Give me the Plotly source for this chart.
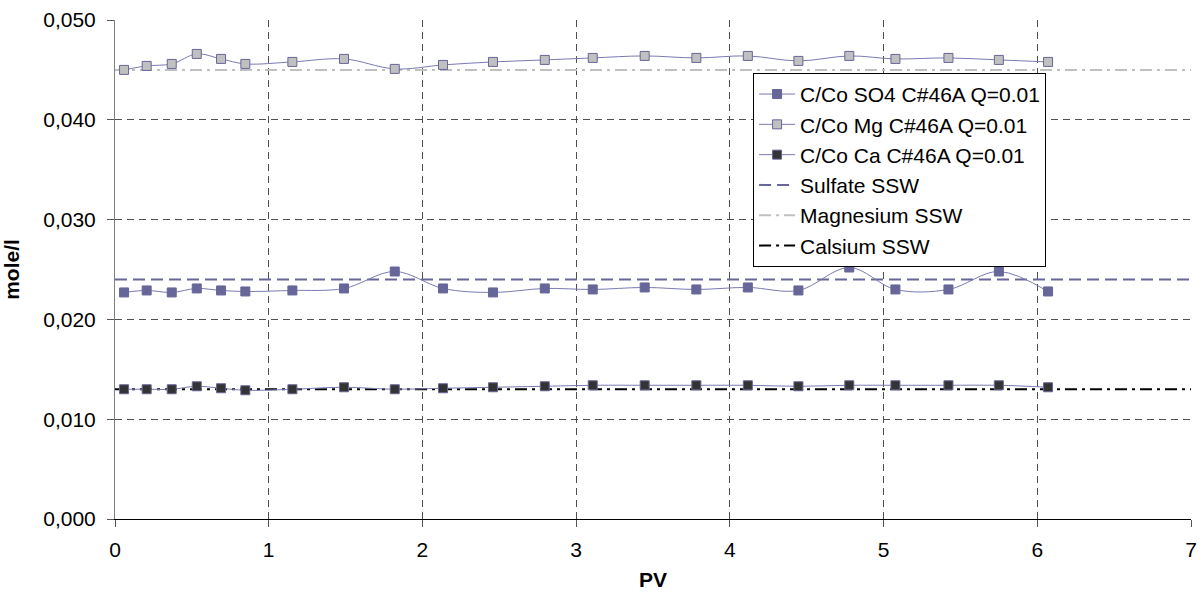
import plotly.graph_objects as go

pv = [0.059, 0.206, 0.369, 0.532, 0.690, 0.848, 1.154, 1.490, 1.820, 2.134, 2.459,
      2.796, 3.108, 3.446, 3.782, 4.117, 4.446, 4.777, 5.077, 5.422, 5.750, 6.070]
so4 = [0.0227, 0.0229, 0.0227, 0.0231, 0.0229, 0.0228, 0.0229, 0.0231, 0.0248, 0.0231, 0.0227,
       0.0231, 0.0230, 0.0232, 0.0230, 0.0232, 0.0229, 0.0252, 0.0230, 0.0230, 0.0248, 0.0228]
mg = [0.0450, 0.0454, 0.0456, 0.0466, 0.0461, 0.0456, 0.0458, 0.0461, 0.0451, 0.0455, 0.0458,
      0.0460, 0.0462, 0.0464, 0.0462, 0.0464, 0.0459, 0.0464, 0.0461, 0.0462, 0.0460, 0.0458]
ca = [0.0130, 0.0130, 0.0130, 0.0133, 0.0131, 0.0129, 0.0130, 0.0132, 0.0130, 0.0131, 0.0132,
      0.0133, 0.0134, 0.0134, 0.0134, 0.0134, 0.0133, 0.0134, 0.0134, 0.0134, 0.0134, 0.0132]

ref_x = [0, 7]
sulfate_ssw = 0.024
magnesium_ssw = 0.045
calsium_ssw = 0.013

series_names = ["C/Co SO4 C#46A Q=0.01", "C/Co Mg C#46A Q=0.01", "C/Co Ca C#46A Q=0.01"]
ref_names = ["Sulfate SSW", "Magnesium SSW", "Calsium SSW"]

line_col = "#7a7ab3"
fig = go.Figure()

refs = [
    (ref_names[0], sulfate_ssw, dict(color="#666699", width=2, dash="12px,6px")),
    (ref_names[1], magnesium_ssw, dict(color="#c0c0c0", width=2, dash="12px,5px,3px,5px")),
    (ref_names[2], calsium_ssw, dict(color="#000000", width=2, dash="12px,5px,3px,5px")),
]
for j, (name, val, ln) in enumerate(refs):
    fig.add_trace(go.Scatter(
        x=ref_x, y=[val, val], name=name, mode="lines", legendgroup=f"r{j}", line=ln,
        legendrank=10 + j,
    ))

for i, (name, ys, fill) in enumerate(zip(series_names, [so4, mg, ca], ["#666699", "#c0c0c0", "#333333"])):
    fig.add_trace(go.Scatter(
        x=pv, y=ys, name=name, mode="lines+markers", legendgroup=f"g{i}",
        line=dict(color=line_col, width=1, shape="spline", smoothing=1.0),
        marker=dict(symbol="square", size=9, color=fill, line=dict(color="#666699", width=1)),
        legendrank=1 + i,
    ))

font = "Liberation Sans, Arial, sans-serif"
fig.update_layout(
    width=1203, height=594,
    margin=dict(l=115, r=12, t=20, b=75),
    paper_bgcolor="white", plot_bgcolor="white",
    separators=", ",
    font=dict(family=font, size=21, color="black"),
    showlegend=True,
    legend=dict(
        x=0.593, y=0.894, xanchor="left", yanchor="top",
        bgcolor="white", bordercolor="black", borderwidth=1,
        font=dict(size=21), tracegroupgap=0, traceorder="normal", itemwidth=36,
    ),
    xaxis=dict(
        range=[0, 7], dtick=1, tick0=0, automargin=False,
        showgrid=True, gridcolor="#505050", griddash="7px,5px", gridwidth=1,
        showline=True, linecolor="black", linewidth=1,
        ticks="outside", ticklen=7, tickcolor="#555555", ticklabelstandoff=5,
        zeroline=False,
        title=dict(text="<b>PV</b>", font=dict(size=21), standoff=12),
        tickfont=dict(size=21),
    ),
    yaxis=dict(
        range=[0, 0.05], dtick=0.01, tick0=0, tickformat=".3f", automargin=False,
        showgrid=True, gridcolor="#505050", griddash="7px,5px", gridwidth=1,
        showline=True, linecolor="#808080", linewidth=1,
        ticks="outside", ticklen=7, tickcolor="#555555", ticklabelstandoff=7,
        zeroline=False,
        title=dict(text="<b>mole/l</b>", font=dict(size=21), standoff=19),
        tickfont=dict(size=21),
    ),
)

fig.write_html("out.html", config={"displayModeBar": False},
               post_script="document.body.style.margin='0';document.body.style.padding='0';")
